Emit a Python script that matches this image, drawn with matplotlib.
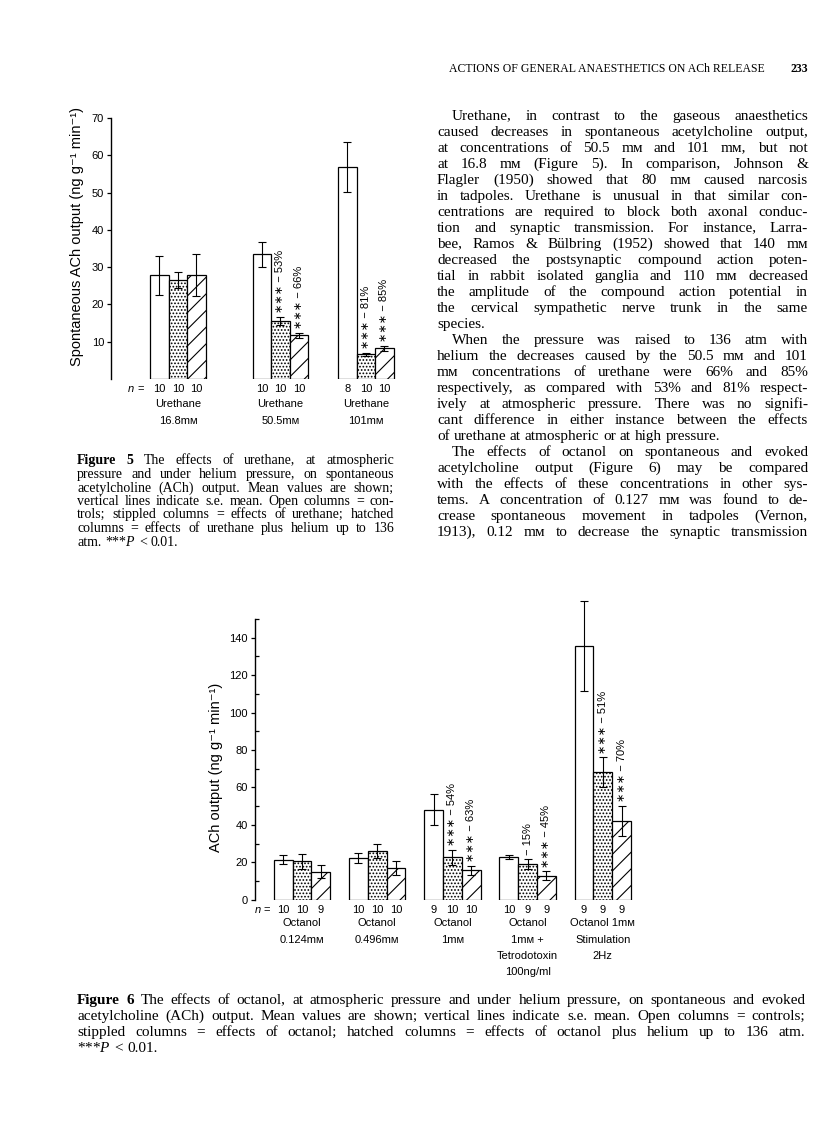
import math
import matplotlib
matplotlib.use("Agg")
import matplotlib.pyplot as plt
from matplotlib.font_manager import FontProperties
from matplotlib.transforms import blended_transform_factory as blend

# ---- Figure 5: urethane ----
f5_doses = ["16.8mᴍ", "50.5mᴍ", "101mᴍ"]
f5_ctrl = [27.8, 33.4, 56.9]
f5_ctrl_se = [5.3, 3.4, 6.7]
f5_ure = [26.6, 15.6, 6.6]
f5_ure_se = [2.2, 1.1, 0.5]
f5_he = [27.9, 11.7, 8.2]
f5_he_se = [5.6, 0.7, 0.7]
f5_n = [[10, 10, 10], [10, 10, 10], [8, 10, 10]]
f5_ure_note = ["", "∗∗∗ − 53%", "∗∗∗ − 81%"]
f5_he_note = ["", "∗∗∗ − 66%", "∗∗∗ − 85%"]

# ---- Figure 6: octanol ----
f6_groups = [["Octanol", "0.124mᴍ"], ["Octanol", "0.496mᴍ"], ["Octanol", "1mᴍ"],
             ["Octanol", "1mᴍ +", "Tetrodotoxin", "100ng/ml"],
             ["Octanol 1mᴍ", "Stimulation", "2Hz"]]
f6_ctrl = [21.4, 22.2, 48.1, 22.7, 135.6]
f6_ctrl_se = [2.4, 2.8, 8.4, 1.1, 24.0]
f6_oct = [20.5, 26.0, 22.6, 19.1, 68.2]
f6_oct_se = [4.1, 3.9, 3.9, 2.9, 7.8]
f6_he = [15.0, 16.9, 15.8, 12.8, 42.1]
f6_he_se = [3.3, 3.6, 2.4, 2.3, 8.0]
f6_n = [[10, 10, 9], [10, 10, 10], [9, 10, 10], [10, 9, 9], [9, 9, 9]]
f6_oct_note = ["", "", "∗∗∗ − 54%", "− 15%", "∗∗∗ − 51%"]
f6_he_note = ["", "", "∗∗∗ − 63%", "∗∗∗ − 45%", "∗∗∗ − 70%"]

# ---- page text ----
header = "ACTIONS OF GENERAL ANAESTHETICS ON ACh RELEASE"
page_no = "233"
body = [
    ["Urethane, in contrast to the gaseous anaesthetics",
     "caused decreases in spontaneous acetylcholine output,",
     "at concentrations of 50.5 mᴍ and 101 mᴍ, but not",
     "at 16.8 mᴍ (Figure 5). In comparison, Johnson &",
     "Flagler (1950) showed that 80 mᴍ caused narcosis",
     "in tadpoles. Urethane is unusual in that similar con-",
     "centrations are required to block both axonal conduc-",
     "tion and synaptic transmission. For instance, Larra-",
     "bee, Ramos & Bülbring (1952) showed that 140 mᴍ",
     "decreased the postsynaptic compound action poten-",
     "tial in rabbit isolated ganglia and 110 mᴍ decreased",
     "the amplitude of the compound action potential in",
     "the cervical sympathetic nerve trunk in the same",
     "species."],
    ["When the pressure was raised to 136 atm with",
     "helium the decreases caused by the 50.5 mᴍ and 101",
     "mᴍ concentrations of urethane were 66% and 85%",
     "respectively, as compared with 53% and 81% respect-",
     "ively at atmospheric pressure. There was no signifi-",
     "cant difference in either instance between the effects",
     "of urethane at atmospheric or at high pressure."],
    ["The effects of octanol on spontaneous and evoked",
     "acetylcholine output (Figure 6) may be compared",
     "with the effects of these concentrations in other sys-",
     "tems. A concentration of 0.127 mᴍ was found to de-",
     "crease spontaneous movement in tadpoles (Vernon,",
     "1913), 0.12 mᴍ to decrease the synaptic transmission"],
]
cap5 = ["^Figure ^5 The effects of urethane, at atmospheric",
        "pressure and under helium pressure, on spontaneous",
        "acetylcholine (ACh) output. Mean values are shown;",
        "vertical lines indicate s.e. mean. Open columns = con-",
        "trols; stippled columns = effects of urethane; hatched",
        "columns = effects of urethane plus helium up to 136",
        "atm. ***$P$ < 0.01."]
cap6 = ["^Figure ^6 The effects of octanol, at atmospheric pressure and under helium pressure, on spontaneous and evoked",
        "acetylcholine (ACh) output. Mean values are shown; vertical lines indicate s.e. mean. Open columns = controls;",
        "stippled columns = effects of octanol; hatched columns = effects of octanol plus helium up to 136 atm.",
        "***$P$ < 0.01."]

SANS = ["Liberation Sans", "DejaVu Sans"]
SERIF = ["Liberation Serif", "DejaVu Serif", "DejaVu Sans"]
plt.rcParams["font.family"] = SANS
plt.rcParams["hatch.linewidth"] = 0.8
plt.rcParams["mathtext.fontset"] = "custom"
plt.rcParams["mathtext.it"] = "Liberation Serif:italic"
plt.rcParams["mathtext.rm"] = "Liberation Serif"

W, H = 816, 1133
fig = plt.figure(figsize=(W / 100, H / 100), dpi=100)
renderer = fig.canvas.get_renderer()


def fx(x):
    return x / W


def fy(y):
    return 1 - y / H


def put_line(line, x0, x1, y, size, justify):
    # one text per word, spread to fill the column when justified
    B = round(y)
    arts = []
    for w in line.split():
        weight = "normal"
        if w.startswith("^"):
            w, weight = w[1:], "bold"
        prop = FontProperties(family=SERIF, size=size, weight=weight)
        e = 0
        if "$" not in w:
            # Agg puts words with descenders up to a pixel off the baseline; undo that
            _, h, d = renderer.get_text_width_height_descent(w, prop, ismath=False)
            e = round(B + d) - math.floor(h) + math.floor(h - d) - B
        arts.append(fig.text(0, fy(B - e), w, fontproperties=prop, va="baseline", ha="left"))
    widths = [a.get_window_extent(renderer).width for a in arts]
    gap = size * 100 / 72 * 0.25
    if justify and len(arts) > 1:
        gap = (x1 - x0 - sum(widths)) / (len(arts) - 1)
    x = x0
    for a, wd in zip(arts, widths):
        a.set_x(fx(x))
        x += wd + gap


def block(lines, x0, x1, y0, dy, size, indent=0, ragged_last=True):
    for i, line in enumerate(lines):
        last = ragged_last and i == len(lines) - 1
        put_line(line, x0 + (indent if i == 0 else 0), x1, y0 + i * dy, size, not last)


def bars(ax, pos, series, errs, notes, counts, pad, y_n):
    tr = blend(ax.transData, fig.transFigure)
    for k, hatch in enumerate(["", ".....", "//"]):
        xs = [p + k - 1 for p in pos]
        ax.bar(xs, series[k], width=1, color="white", edgecolor="black",
               linewidth=0.9, hatch=hatch, zorder=2)
        eb = ax.errorbar(xs, series[k], yerr=errs[k], fmt="none", ecolor="black",
                         elinewidth=0.8, capsize=3, capthick=0.8, zorder=3)
        for a in list(eb.lines[1]) + list(eb.lines[2]):
            a.set_clip_on(False)
        for i, x in enumerate(xs):
            if notes[k] and notes[k][i]:
                ax.text(x, series[k][i] + errs[k][i] + pad, notes[k][i], rotation=90,
                        ha="center", va="bottom", fontsize=8)
            ax.text(x, fy(y_n), str(counts[i][k]), transform=tr, ha="center",
                    va="center", fontsize=8)


def style(ax):
    for s in ("top", "right", "bottom"):
        ax.spines[s].set_visible(False)
    ax.spines["left"].set_linewidth(1.0)
    ax.set_xticks([])
    ax.tick_params(axis="y", direction="out", length=3, width=0.9, labelsize=8, pad=2)
    ax.patch.set_alpha(0)


# ---- Figure 5 ----
ax5 = fig.add_axes([fx(111), fy(379), (400 - 111) / W, (379 - 118) / H])
ax5.set_xlim(0, 289 / 18.5)
ax5.set_ylim(0, 70)
f5_pos = [3.62, 9.16, 13.78]
style(ax5)
ax5.set_yticks(range(10, 80, 10))
bars(ax5, f5_pos, [f5_ctrl, f5_ure, f5_he], [f5_ctrl_se, f5_ure_se, f5_he_se],
     [None, f5_ure_note, f5_he_note], f5_n, 1.0, 389)
tr5 = blend(ax5.transData, fig.transFigure)
for p, d in zip(f5_pos, f5_doses):
    ax5.text(p, fy(404), "Urethane", transform=tr5, ha="center", va="center", fontsize=8)
    ax5.text(p, fy(421), d, transform=tr5, ha="center", va="center", fontsize=8)
fig.text(fx(134), fy(389), "n", style="italic", ha="right", va="center", fontsize=8)
fig.text(fx(137), fy(389), "=", ha="left", va="center", fontsize=8)
fig.text(fx(77), fy(236), "Spontaneous ACh output (ng g⁻¹ min⁻¹)", rotation=90,
         ha="center", va="center", fontsize=10.5)

# ---- Figure 6 ----
ax6 = fig.add_axes([fx(255), fy(899.7), (640 - 255) / W, (899.7 - 619) / H])
ax6.set_xlim(0, 385 / 18.8)
ax6.set_ylim(0, 150)
f6_pos = [2.5 + 4 * i for i in range(len(f6_groups))]
style(ax6)
ax6.set_yticks(range(0, 160, 20))
ax6.set_yticks(range(10, 160, 20), minor=True)
ax6.tick_params(axis="y", which="minor", direction="in", length=3, width=0.9)
bars(ax6, f6_pos, [f6_ctrl, f6_oct, f6_he], [f6_ctrl_se, f6_oct_se, f6_he_se],
     [None, f6_oct_note, f6_he_note], f6_n, 2.0, 910)
tr6 = blend(ax6.transData, fig.transFigure)
for p, lab in zip(f6_pos, f6_groups):
    for j, s in enumerate(lab):
        ax6.text(p, fy(923.5 + 16.3 * j), s, transform=tr6, ha="center", va="center", fontsize=8)
fig.text(fx(261), fy(910), "n", style="italic", ha="right", va="center", fontsize=8)
fig.text(fx(263), fy(910), "=", ha="left", va="center", fontsize=8)
fig.text(fx(216), fy(767), "ACh output (ng g⁻¹ min⁻¹)", rotation=90,
         ha="center", va="center", fontsize=10.5)

# ---- page text ----
fig.text(fx(765), fy(72), header, ha="right", va="baseline", family=SERIF, fontsize=8.5)
fig.text(fx(808), fy(72), page_no, ha="right", va="baseline", family=SERIF,
         fontsize=8.5, fontweight="bold")
row = 0
for k, para in enumerate(body):
    block(para, 437, 808, 120 + 16 * row, 16, 11, indent=15, ragged_last=(k < 2))
    row += len(para)
block(cap5, 77, 394, 464.5, 13.5, 10)
block(cap6, 77, 805, 1003.5, 16.3, 11)

fig.savefig("out.png", dpi=100)
